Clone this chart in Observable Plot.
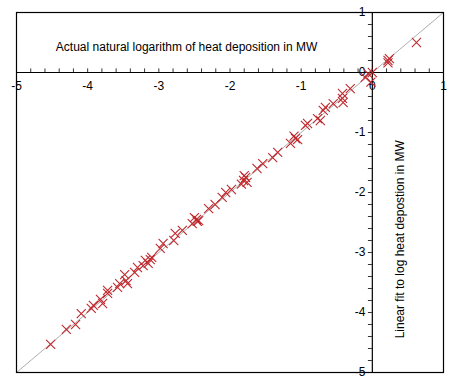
<!DOCTYPE html>
<html>
<head>
<meta charset="utf-8">
<script src="https://cdn.jsdelivr.net/npm/d3@7"></script>
<script src="https://cdn.jsdelivr.net/npm/@observablehq/plot@0.6"></script>
<style>
  html, body { margin: 0; padding: 0; background: #fff; }
  #chart { width: 458px; height: 388px; }
</style>
</head>
<body>
<div id="chart"></div>
<script>
// actual natural log of heat deposition (MW)
const actual = [
  -4.52, -4.30, -4.17, -4.09, -3.95, -3.92, -3.82, -3.79, -3.72, -3.72,
  -3.58, -3.55, -3.48, -3.44, -3.46, -3.34, -3.30, -3.22, -3.19, -3.12,
  -3.15, -3.10, -2.98, -2.94, -2.79, -2.77, -2.67, -2.53, -2.47, -2.46,
  -2.50, -2.44, -2.30, -2.21, -2.11, -2.06, -1.98, -1.84, -1.81, -1.78,
  -1.80, -1.76, -1.62, -1.54, -1.40, -1.33, -1.15, -1.08, -1.10, -1.05,
  -0.94, -0.91, -0.77, -0.73, -0.69, -0.66, -0.55, -0.42, -0.41, -0.42,
  -0.31, -0.10, -0.06, -0.02, 0.00, 0.22, 0.24, 0.22, 0.62
];
// linear fit to log heat deposition (MW)
const fitted = [
  -4.53, -4.28, -4.20, -4.02, -3.93, -3.88, -3.78, -3.85, -3.68, -3.63,
  -3.58, -3.52, -3.37, -3.52, -3.47, -3.33, -3.25, -3.22, -3.13, -3.12,
  -3.18, -3.08, -2.93, -2.85, -2.80, -2.68, -2.63, -2.52, -2.45, -2.48,
  -2.42, -2.47, -2.27, -2.20, -2.08, -2.00, -1.95, -1.86, -1.80, -1.75,
  -1.72, -1.83, -1.60, -1.52, -1.42, -1.33, -1.18, -1.10, -1.06, -1.12,
  -0.88, -0.85, -0.77, -0.80, -0.63, -0.58, -0.52, -0.43, -0.50, -0.35,
  -0.27, -0.08, -0.02, -0.16, 0.00, 0.20, 0.23, 0.16, 0.50
];
const tickValues = [-5, -4, -3, -2, -1, 0, 1];
const tickLabels = ["-5", "-4", "-3", "-2", "-1", "0", "1"];
const minorTicks = d3.range(-5, 1.0001, 0.2).map(v => Math.round(v * 10) / 10);
const diagonal = [[-5, -5], [1, 1]];

const points = actual.map((a, i) => ({actual: a, fitted: fitted[i]}));
const labelsX = tickValues.map((v, i) => ({v, label: tickLabels[i]})).filter(d => d.v !== 1 || true);

const font = "'Liberation Sans', Arial, sans-serif";

const chart = Plot.plot({
  width: 458,
  height: 388,
  marginLeft: 16,
  marginRight: 15,
  marginTop: 12,
  marginBottom: 16,
  style: {fontFamily: font, fontSize: "12px", background: "#fff", overflow: "visible"},
  x: {domain: [-5, 1], axis: null},
  y: {domain: [-5, 1], axis: null},
  marks: [
    Plot.line(diagonal, {x: d => d[0], y: d => d[1], stroke: "#999", strokeWidth: 0.8}),
    Plot.ruleY([0], {stroke: "#000", strokeWidth: 1.2}),
    Plot.ruleX([0], {stroke: "#000", strokeWidth: 1.2}),
    Plot.ruleX(minorTicks, {x: d => d, y1: 0, y2: 0.06, stroke: "#000", strokeWidth: 0.8}),
    Plot.ruleY(minorTicks, {y: d => d, x1: 0, x2: -0.055, stroke: "#000", strokeWidth: 0.8}),
    Plot.text(labelsX, {x: "v", y: 0, text: "label", dy: 14, fill: "#000", fontSize: 12}),
    Plot.text(labelsX.filter(d => d.v !== 0 || true), {x: 0, y: "v", text: "label", dx: -7, textAnchor: "end", fill: "#000", fontSize: 12}),
    Plot.dot(points, {x: "actual", y: "fitted", symbol: "times", r: 4.2, stroke: "#c0282d", strokeWidth: 1.1}),
    Plot.text(["Actual natural logarithm of heat deposition in MW"], {x: -2.61, y: 0.42, text: d => d, fontSize: 12, fill: "#000"}),
    Plot.text(["Linear fit to log heat depostion in MW"], {x: 0.39, y: -2.78, text: d => d, rotate: -90, fontSize: 12, fill: "#000"}),
    Plot.frame({stroke: "#000", strokeWidth: 1.2})
  ]
});
document.getElementById("chart").appendChild(chart);
</script>
</body>
</html>
